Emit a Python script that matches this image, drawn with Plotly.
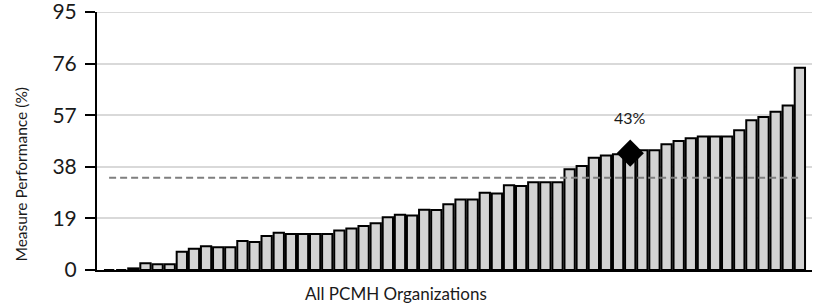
import plotly.graph_objects as go

# Data
org_index = list(range(58))
performance = [0, 0, 0.6, 2.5, 2.1, 2.1, 6.7, 7.8, 8.7, 8.4, 8.4, 10.7, 10.3, 12.5,
               13.7, 13.3, 13.3, 13.3, 13.3, 14.5, 15.3, 16.2, 17.2, 19.4, 20.3, 20.1,
               22.2, 22.1, 24.2, 26.0, 26.0, 28.4, 28.2, 31.2, 30.9, 32.3, 32.3, 32.3,
               37.1, 38.3, 41.3, 42.2, 42.6, 43.0, 44.1, 44.1, 46.3, 47.5, 48.5, 49.2,
               49.2, 49.2, 51.5, 55.1, 56.3, 58.3, 60.6, 74.5]
benchmark = 34.0
highlight_index = 43
highlight_value = 43.0
highlight_label = "43%"
y_ticks = [0, 19, 38, 57, 76, 95]

FONT = "Lato"
TXT = "#1a1a1a"

fig = go.Figure()
fig.add_trace(go.Bar(
    x=org_index, y=performance,
    marker=dict(color="#d3d3d3", line=dict(color="black", width=2)),
    hoverinfo="skip", showlegend=False,
))
fig.add_trace(go.Scatter(
    x=org_index, y=[benchmark] * len(org_index), mode="lines",
    line=dict(color="#7f7f7f", width=2, dash="7px,4px"),
    hoverinfo="skip", showlegend=False,
))
fig.add_trace(go.Scatter(
    x=[highlight_index], y=[highlight_value], mode="markers",
    marker=dict(symbol="diamond", size=21, color="black"),
    hoverinfo="skip", showlegend=False,
))
fig.add_annotation(x=highlight_index, y=highlight_value, text=highlight_label,
                   showarrow=False, yshift=36, font=dict(family=FONT, size=16, color=TXT))
fig.add_annotation(xref="paper", yref="paper", x=0.4178, y=-0.093,
                   text="All PCMH Organizations", showarrow=False,
                   xanchor="center", yanchor="middle",
                   font=dict(family=FONT, size=17, color=TXT))
fig.add_annotation(xref="paper", yref="paper", x=-0.1064, y=0.370,
                   text="Measure Performance (%)", showarrow=False, textangle=-90,
                   xanchor="center", yanchor="middle",
                   font=dict(family=FONT, size=15.5, color=TXT))
# top gridline (plotly drops gridlines at the range edge)
fig.add_shape(type="line", xref="paper", yref="y", x0=0, x1=1, y0=y_ticks[-1], y1=y_ticks[-1],
              line=dict(color="#d9d9d9", width=2), layer="below")

fig.update_layout(
    width=817, height=306,
    margin=dict(l=97, r=5, t=12, b=36, autoexpand=False),
    paper_bgcolor="white", plot_bgcolor="white",
    bargap=0.15,
    font=dict(family=FONT, color=TXT),
    xaxis=dict(range=[-1, 58], showticklabels=False, ticks="", showgrid=False,
               showline=True, linecolor="black", linewidth=2, zeroline=False,
               automargin=False),
    yaxis=dict(range=[0, 95], tickvals=y_ticks, ticktext=[str(v) for v in y_ticks],
               showgrid=True, gridcolor="#d9d9d9", gridwidth=2,
               showline=True, linecolor="black", linewidth=2, zeroline=False,
               ticks="outside", ticklen=10, tickwidth=2, tickcolor="black",
               ticklabelstandoff=4,
               automargin=False, ticklabeloverflow="allow",
               tickfont=dict(family=FONT, size=21, color=TXT)),
)

fig.write_html("out.html", config={"displayModeBar": False},
               post_script="document.body.style.margin='0';")
